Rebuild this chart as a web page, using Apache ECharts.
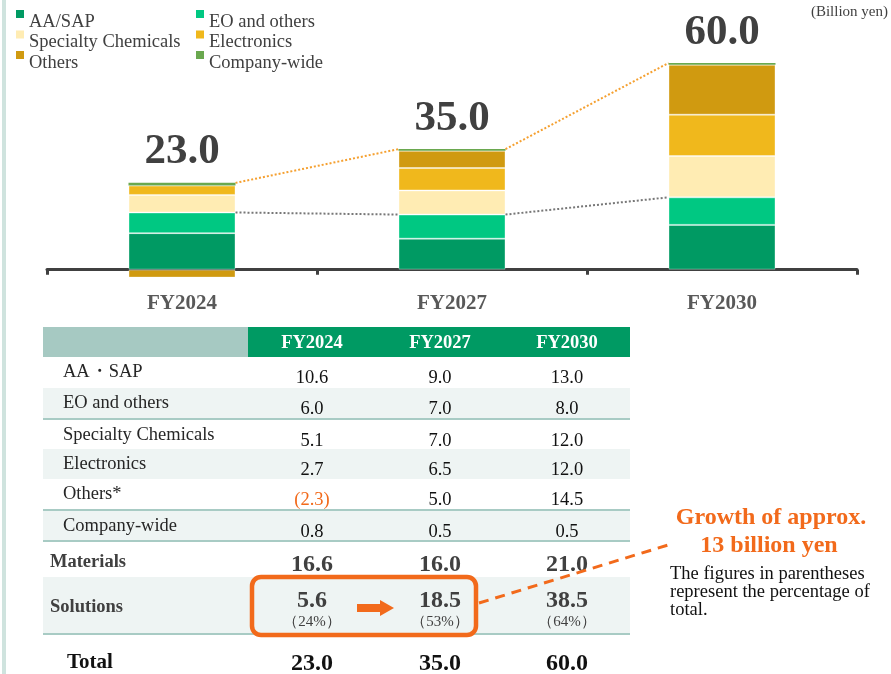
<!DOCTYPE html>
<html lang="en">
<head>
	<meta charset="UTF-8">
	<title>Sales outlook</title>
	<style>
		html, body { margin: 0; padding: 0; background: #fff; }
		#main { width: 891px; height: 674px; }
	</style>
</head>
<body>
	<div id="main"></div>
	<script src="https://cdn.jsdelivr.net/npm/echarts@6/dist/echarts.min.js"></script>
	<script>
		// data, billion yen
		var years = ['FY2024', 'FY2027', 'FY2030'];
		var aaSap = [10.6, 9.0, 13.0];
		var eoOthers = [6.0, 7.0, 8.0];
		var specialty = [5.1, 7.0, 12.0];
		var electronics = [2.7, 6.5, 12.0];
		var others = [-2.3, 5.0, 14.5];
		var companyWide = [0.8, 0.5, 0.5];
		var materials = [16.6, 16.0, 21.0];
		var solutions = [5.6, 18.5, 38.5];
		var solutionShare = ['24%', '53%', '64%'];
		var totals = [23.0, 35.0, 60.0];

		var serif = '"Liberation Serif", "Times New Roman", serif';
		var orange = '#f26a1b';
		var barW = 107;
		var chart = echarts.init(document.getElementById('main'));

		// tops used by the dotted connectors
		var posTop = [], matTop = [];
		for (var i = 0; i < years.length; i++) {
			var s = 0;
			[aaSap, eoOthers, specialty, electronics, others, companyWide].forEach(function(a){
				if (a[i] > 0) s += a[i];
			});
			posTop.push(s);
			matTop.push(aaSap[i] + eoOthers[i]);
		}
		var orangeLinks = [], grayLinks = [];
		for (var j = 0; j < years.length - 1; j++) {
			orangeLinks.push([j, posTop[j], j + 1, posTop[j + 1]]);
			grayLinks.push([j, matTop[j], j + 1, matTop[j + 1]]);
		}

		function linkSeries(data, color){
			return {
				type: 'custom',
				silent: true,
				data: data,
				encode: { x: [0, 2], y: [1, 3] },
				renderItem: function(params, api){
					var p0 = api.coord([api.value(0), api.value(1)]);
					var p1 = api.coord([api.value(2), api.value(3)]);
					return {
						type: 'line',
						shape: { x1: p0[0] + barW / 2, y1: p0[1], x2: p1[0] - barW / 2, y2: p1[1] },
						style: { stroke: color, lineWidth: 2, lineDash: [2, 2] }
					};
				},
				z: 1
			};
		}

		function bar(name, data, color){
			return {
				name: name,
				type: 'bar',
				stack: 'sales',
				barWidth: barW,
				data: data,
				itemStyle: { color: color, borderColor: 'rgba(255,255,255,0.35)', borderWidth: 1 },
				z: 2
			};
		}

		var top6 = bar('Company-wide', companyWide, '#6aa84f');
		top6.itemStyle = { color: '#6aa84f' };
		top6.label = {
			show: true,
			position: 'top',
			distance: 9,
			formatter: function(p){ return totals[p.dataIndex].toFixed(1); },
			fontFamily: serif,
			fontWeight: 'bold',
			fontSize: 43,
			color: '#404040'
		};

		// ---------- table drawn as graphic ----------
		var g = [];
		var colX = [312, 440, 567];
		var tLeft = 43, tRight = 630, light = '#eef4f3', rule = '#a8cbc4';

		function rect(x, y, w, h, fill){
			g.push({ type: 'rect', shape: { x: x, y: y, width: w, height: h }, style: { fill: fill }, silent: true });
		}
		function text(t, x, y, size, color, weight, align){
			g.push({ type: 'text', silent: true, style: {
				text: t, x: x, y: y, fill: color, fontSize: size, fontFamily: serif,
				fontWeight: weight || 'normal', align: align || 'left', verticalAlign: 'middle'
			}});
		}
		function fmt(v){ return v < 0 ? '(' + Math.abs(v).toFixed(1) + ')' : v.toFixed(1); }

		// left margin strip
		rect(2, 0, 4, 674, '#cfe3de');
		text('(Billion yen)', 888, 12, 15, '#404040', 'normal', 'right');

		// header
		rect(tLeft, 327, 248 - tLeft, 30, '#a6c9c2');
		rect(248, 327, tRight - 248, 30, '#009a63');
		years.forEach(function(y, k){ text(y, colX[k], 343, 18.5, '#fff', 'bold', 'center'); });

		var rows = [
			{ name: 'AA・SAP', vals: aaSap, top: 357, h: 31, bg: '#fff' },
			{ name: 'EO and others', vals: eoOthers, top: 388, h: 30, bg: light, rule: true },
			{ name: 'Specialty Chemicals', vals: specialty, top: 420, h: 29, bg: '#fff' },
			{ name: 'Electronics', vals: electronics, top: 449, h: 30, bg: light },
			{ name: 'Others*', vals: others, top: 479, h: 30, bg: '#fff', rule: true },
			{ name: 'Company-wide', vals: companyWide, top: 511, h: 29, bg: light, rule: true }
		];
		rows.forEach(function(r){
			rect(tLeft, r.top, tRight - tLeft, r.h, r.bg);
			if (r.rule) rect(tLeft, r.top + r.h, tRight - tLeft, 2, rule);
			text(r.name, 63, r.top + 15, 18.5, '#262626');
			r.vals.forEach(function(v, k){
				text(fmt(v), colX[k], r.top + 21, 18.5, v < 0 ? orange : '#111', 'normal', 'center');
			});
		});

		// materials / solutions / total
		rect(tLeft, 542, tRight - tLeft, 35, '#fff');
		text('Materials', 50, 562, 18.5, '#404040', 'bold');
		materials.forEach(function(v, k){ text(v.toFixed(1), colX[k], 565, 24, '#404040', 'bold', 'center'); });

		rect(tLeft, 577, tRight - tLeft, 56, light);
		rect(tLeft, 633, tRight - tLeft, 2, rule);
		text('Solutions', 50, 607, 18.5, '#404040', 'bold');
		solutions.forEach(function(v, k){
			text(v.toFixed(1), colX[k], 601, 24, '#404040', 'bold', 'center');
			text('（' + solutionShare[k] + '）', colX[k], 622, 15, '#404040', 'normal', 'center');
		});

		text('Total', 67, 663, 21, '#111', 'bold');
		totals.forEach(function(v, k){ text(v.toFixed(1), colX[k], 664, 24, '#111', 'bold', 'center'); });

		// highlight box, arrow and callout
		g.push({ type: 'rect', silent: true, shape: { x: 252, y: 577, width: 224, height: 58, r: 9 },
			style: { fill: null, stroke: orange, lineWidth: 4.5 } });
		g.push({ type: 'polygon', silent: true, shape: { points: [[357, 604], [380, 604], [380, 600], [394, 608], [380, 616], [380, 612], [357, 612]] },
			style: { fill: orange } });
		g.push({ type: 'line', silent: true, shape: { x1: 479, y1: 603, x2: 668, y2: 545 },
			style: { stroke: orange, lineWidth: 3, lineDash: [10, 7] } });
		text('Growth of approx.', 771, 518, 24, orange, 'bold', 'center');
		text('13 billion yen', 769, 546, 24, orange, 'bold', 'center');
		text('The figures in parentheses', 670, 574, 18.5, '#111');
		text('represent the percentage of', 670, 592, 18.5, '#111');
		text('total.', 670, 610, 18.5, '#111');

		var legendBase = {
			orient: 'vertical',
			top: 10,
			padding: 0,
			itemWidth: 8,
			itemHeight: 24,
			itemGap: -3.5,
			icon: 'path://M0,0L8,0L8,8L0,8Z M0,24L8,24',
			itemStyle: { borderWidth: 0 },
			textStyle: { fontFamily: serif, fontSize: 18.5, color: '#404040' },
			selectedMode: false
		};

		var option = {
			backgroundColor: '#fff',
			animation: false,
			legend: [
				Object.assign({}, legendBase, { left: 16, data: ['AA/SAP', 'Specialty Chemicals', 'Others'] }),
				Object.assign({}, legendBase, { left: 196, data: ['EO and others', 'Electronics', 'Company-wide'] })
			],
			grid: { left: 47, right: 34, top: 63, bottom: 394 },
			xAxis: {
				type: 'category',
				data: years,
				axisLine: { onZero: true, lineStyle: { color: '#404040', width: 3 } },
				axisTick: { show: true, length: 5, lineStyle: { color: '#404040', width: 3 } },
				axisLabel: { margin: 13, fontFamily: serif, fontWeight: 'bold', fontSize: 21, color: '#595959' }
			},
			yAxis: { type: 'value', min: -3, max: 60, show: false, splitLine: { show: false } },
			graphic: g,
			series: [
				bar('AA/SAP', aaSap, '#009a63'),
				bar('EO and others', eoOthers, '#00c882'),
				bar('Specialty Chemicals', specialty, '#ffecb3'),
				bar('Electronics', electronics, '#f0b81c'),
				bar('Others', others, '#d09a10'),
				top6,
				linkSeries(orangeLinks, '#f5a030'),
				linkSeries(grayLinks, '#777777')
			]
		};

		chart.setOption(option);
	</script>
</body>
</html>
